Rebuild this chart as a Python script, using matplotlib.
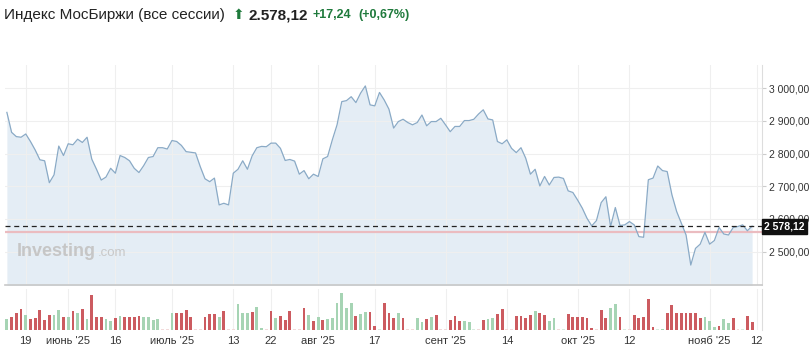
import matplotlib
matplotlib.use("Agg")
import matplotlib.pyplot as plt
import matplotlib.transforms as mtransforms
import numpy as np

plt.rcParams['font.family'] = ['Liberation Sans', 'DejaVu Sans']

# daily closes, mid-May .. 12 Nov 2025
prices = [2926, 2865, 2852, 2850, 2860, 2837, 2811, 2781, 2778, 2711, 2735, 2823, 2794, 2830, 2827, 2844,
          2834, 2850, 2783, 2752, 2719, 2728, 2755, 2740, 2794, 2788, 2778, 2755, 2742, 2763, 2788, 2791,
          2818, 2818, 2814, 2840, 2837, 2825, 2806, 2804, 2802, 2760, 2723, 2714, 2725, 2643, 2648, 2643,
          2740, 2752, 2778, 2752, 2793, 2818, 2822, 2821, 2832, 2832, 2816, 2779, 2782, 2777, 2737,
          2748, 2723, 2737, 2730, 2784, 2791, 2842, 2888, 2959, 2962, 2974, 2956, 2985, 3007, 2949, 2946,
          2987, 2964, 2936, 2878, 2898, 2905, 2895, 2888, 2895, 2918, 2885, 2898, 2898, 2908, 2888, 2867,
          2883, 2883, 2901, 2901, 2905, 2921, 2934, 2906, 2903, 2837, 2830, 2842, 2816, 2803, 2818, 2786,
          2737, 2752, 2701, 2730, 2704, 2727, 2728, 2724, 2686, 2681, 2658, 2633, 2602, 2579, 2595, 2650,
          2668, 2577, 2635, 2580, 2582, 2592, 2582, 2546, 2544, 2720, 2725, 2762, 2748, 2745, 2674, 2623,
          2587, 2551, 2459, 2510, 2523, 2559, 2523, 2534, 2574, 2554, 2551, 2574, 2577, 2582, 2564, 2578.12]

volumes = [32, 37, 49, 61, 44, 32, 35, 59, 29, 43, 43, 59, 37, 39, 56, 51, 61, 32, 102, 39, 39, 32, 27, 35,
           40, 37, 39, 37, 40, 39, 37, 29, 32, 2, 2, 50, 50, 49, 60, 37, 2, 2, 37, 46, 48, 39, 56, 2, 2, 75,
           49, 49, 54, 67, 7, 2, 57,
           35, 42, 30, 55, 2, 2, 64, 44, 27, 37, 29, 32, 35, 80, 107, 65, 80, 41, 47, 54, 54, 12, 2, 80, 49,
           34, 51, 34, 2, 2, 35, 24, 32, 37, 44, 2, 2, 30, 40, 25, 27, 22, 2, 2, 30, 32, 34, 47, 62, 2, 2,
           42, 42, 34, 44, 57, 49,
           44, 25, 35, 2, 2, 46, 37, 37, 37, 34, 7, 2, 59, 35, 63, 75, 39, 2, 2, 44, 36, 37, 92, 9, 2, 4,
           49, 72, 50, 50, 49, 50, 50, 34, 39, 27, 9, 12, 32, 20, 35, 2, 2, 42, 24]

# g = up day, r = down day
directions = ("grrrgrrrrrggrgrgrgrrrggrgrrrrggggrrgrrrrrrrrrgrrrgggrggrr"
              "grrrrrrgrgrggggggrggrrgrrrgrrrggrgrrrrrrgggrrggrrrrrrrrgrrg"
              "grgrrrrrrrrrggrgrrrrrrggrrrrrrrrgggrggrrgrrrg")

tick_pos = [4, 13, 23, 35, 48, 56, 66, 78, 93, 106, 121, 132, 149, 159]
tick_labels = ['19', "июнь '25", '16', "июль '25", '13', '22', "авг '25", '17', "сент '25", '14',
               "окт '25", '12', "нояб '25", '12']

y_ticks = [2500, 2600, 2700, 2800, 2900, 3000]
last_price = 2578.12
prev_close = 2560.88

W, H = 812, 351
fig = plt.figure(figsize=(W / 100, H / 100), dpi=100)

x = np.arange(len(prices))
xmin, xmax = -0.4, 160.1

# --- price panel
ax = fig.add_axes([5 / W, (H - 285) / H, 757 / W, (285 - 65) / H])
ax.fill_between(x, prices, 2300, color='#e4edf5', lw=0, zorder=1)
ax.plot(x, prices, color='#8aaac6', lw=0.9, zorder=3)
ax.set_xlim(xmin, xmax)
ax.set_ylim(2398, 3071)
ax.set_yticks(y_ticks)
ax.set_yticklabels([f"{v // 1000} {v % 1000:03d},00" for v in y_ticks])
ax.yaxis.tick_right()
ax.tick_params(axis='y', length=3, width=0.8, color='#cccccc', labelsize=7.5,
               labelcolor='#333333', pad=2)
ax.set_xticks(tick_pos)
ax.tick_params(axis='x', length=0, labelbottom=False)
ax.grid(True, color='#efefef', lw=0.8, zorder=0)
for s in ['top', 'left']:
    ax.spines[s].set_visible(False)
ax.spines['bottom'].set_color('#c8c8c8')
ax.spines['bottom'].set_linewidth(1.2)
ax.spines['right'].set_color('#dddddd')

ax.axhline(prev_close, color='#ebbcc0', lw=1.6, zorder=2)
ax.axhline(last_price, color='#222222', lw=0.9, ls=(0, (4, 3)), zorder=4)

trans = mtransforms.blended_transform_factory(ax.transAxes, ax.transData)
ax.text(1.003, last_price, '2 578,12', transform=trans, color='white', fontsize=7.5,
        fontweight='bold', va='center', ha='left', zorder=10,
        bbox=dict(boxstyle='square,pad=0.25', fc='#111111', ec='#111111'))

# watermark
fig.text(17 / W, 1 - 252 / H, 'Investing', fontsize=13, fontweight='bold', color='#c6c6c6',
         va='center', ha='left')
fig.text(98 / W, 1 - 253 / H, '.com', fontsize=9.5, color='#c8c8c8', va='center', ha='left')

# --- volume panel
axv = fig.add_axes([5 / W, (H - 330) / H, 757 / W, (330 - 289) / H])
cols = []
for d, v in zip(directions, volumes):
    if v <= 2:
        cols.append('#f2dada' if d == 'r' else '#d8ecde')
    elif d == 'g':
        cols.append('#a6d4b4')
    else:
        cols.append('#cc5b60')
axv.bar(x, volumes, width=0.6, color=cols, zorder=2)
axv.set_xlim(xmin, xmax)
axv.set_ylim(0, 120)
axv.set_yticks([])
axv.set_xticks(tick_pos)
axv.set_xticklabels(tick_labels)
axv.tick_params(axis='x', length=0, labelsize=8, labelcolor='#333333', pad=4)
axv.grid(True, axis='x', color='#efefef', lw=0.8, zorder=0)
for s in ['top', 'left', 'bottom']:
    axv.spines[s].set_visible(False)
axv.spines['right'].set_color('#dddddd')

# --- header
fig.text(4 / W, 1 - 15 / H, 'Индекс МосБиржи (все сессии)', fontsize=11, color='#222222',
         va='center', ha='left')
fig.text(233 / W, 1 - 15 / H, '⬆', fontsize=10, color='#1f7a3c', va='center', ha='left',
         family='DejaVu Sans')
fig.text(249 / W, 1 - 15 / H, '2.578,12', fontsize=11, fontweight='bold', color='#222222',
         va='center', ha='left')
fig.text(313 / W, 1 - 15 / H, '+17,24', fontsize=9, fontweight='bold', color='#1f7a3c',
         va='center', ha='left')
fig.text(358 / W, 1 - 15 / H, '(+0,67%)', fontsize=9, fontweight='bold', color='#1f7a3c',
         va='center', ha='left')

fig.savefig('out.png', dpi=100)
